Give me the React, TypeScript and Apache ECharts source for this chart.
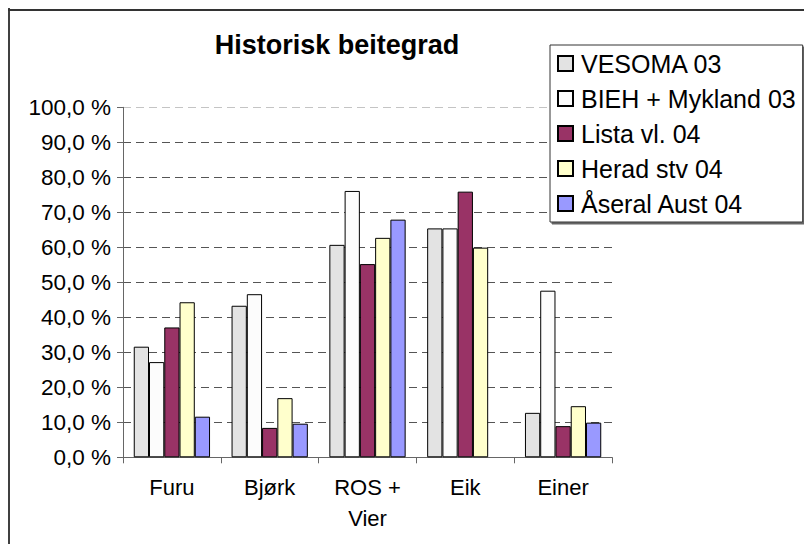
import React, { useEffect, useRef } from "react";
import * as echarts from "echarts";

const categories = ["Furu", "Bjørk", "ROS + Vier", "Eik", "Einer"];
const seriesNames = ["VESOMA 03", "BIEH + Mykland 03", "Lista vl. 04", "Herad stv 04", "Åseral Aust 04"];
const vesoma = [31.6, 43.3, 60.7, 65.4, 12.7];
const bieh = [27.2, 46.6, 76.1, 65.4, 47.6];
const lista = [37.1, 8.4, 55.2, 75.9, 8.9];
const herad = [44.3, 16.9, 62.7, 59.9, 14.6];
const aseral = [11.6, 9.6, 67.9, null, 9.9];
const seriesData = [vesoma, bieh, lista, herad, aseral];
const colors = ["#E3E3E3", "#FCFCFC", "#993366", "#FFFFCC", "#9999FF"];
const yTicks = [0, 10, 20, 30, 40, 50, 60, 70, 80, 90, 100];
const titleText = "Historisk beitegrad";

const FONT = "'Liberation Sans', Arial, sans-serif";

export default function App() {
  const ref = useRef<HTMLDivElement>(null);
  useEffect(() => {
    if (!ref.current) return;
    const chart = echarts.init(ref.current, undefined, { renderer: "svg" });
    const gridColors = yTicks.map((t, i) => (i === yTicks.length - 1 ? "#c4c4c4" : "#555"));
    chart.setOption({
      animation: false,
      backgroundColor: "#ffffff",
      textStyle: { fontFamily: FONT },
      graphic: [
        { type: "line", shape: { x1: 1, y1: 0, x2: 1, y2: 540 }, style: { stroke: "#404040", lineWidth: 2 } },
        { type: "line", shape: { x1: 0, y1: 2, x2: 810, y2: 2 }, style: { stroke: "#333333", lineWidth: 2 } },
        {
          type: "text",
          x: 329,
          y: 37,
          style: {
            text: titleText,
            fontFamily: FONT,
            fontWeight: "bold",
            fontSize: 27,
            fill: "#000",
            textAlign: "center",
            textVerticalAlign: "middle",
          },
        },
      ],
      legend: {
        orient: "vertical",
        left: 542,
        top: 37,
        width: 262,
        padding: [6, 7, 6, 7],
        itemWidth: 15,
        itemHeight: 15,
        itemGap: 10,
        icon: "rect",
        borderColor: "#333",
        borderWidth: 1,
        backgroundColor: "#fff",
        shadowColor: "rgba(0,0,0,0.6)",
        shadowOffsetX: 2,
        shadowOffsetY: 2,
        shadowBlur: 0,
        textStyle: { fontFamily: FONT, fontSize: 25, color: "#000", lineHeight: 24, padding: [0, 0, 0, 3] },
        data: seriesNames,
      },
      grid: { left: 115, right: 200, top: 99.3, bottom: 86.7, containLabel: false },
      xAxis: {
        type: "category",
        data: categories,
        axisLine: { lineStyle: { color: "#666", width: 1 } },
        axisTick: { show: true, length: 6, alignWithLabel: false, lineStyle: { color: "#666" } },
        axisLabel: {
          fontFamily: FONT,
          fontSize: 22,
          color: "#000",
          margin: 15,
          lineHeight: 31,
          interval: 0,
          formatter: (v: string) => v.replace("+ ", "+\n"),
        },
      },
      yAxis: {
        type: "value",
        min: yTicks[0],
        max: yTicks[yTicks.length - 1],
        interval: 10,
        axisLine: { show: true, lineStyle: { color: "#666", width: 1 } },
        axisTick: { show: true, length: 6, lineStyle: { color: "#666" } },
        axisLabel: {
          fontFamily: FONT,
          fontSize: 22.5,
          color: "#000",
          margin: 12,
          formatter: (v: number) => v.toFixed(1).replace(".", ",") + " %",
        },
        splitLine: { show: true, lineStyle: { color: gridColors, type: [8, 5], width: 1 } },
      },
      series: seriesNames.map((name, i) => ({
        name,
        type: "bar",
        data: seriesData[i],
        barGap: "0%",
        barCategoryGap: "22%",
        itemStyle: { color: colors[i], borderColor: "#000", borderWidth: 1 },
      })),
    });
    return () => chart.dispose();
  }, []);
  return <div ref={ref} style={{ width: 804, height: 536 }} />;
}
